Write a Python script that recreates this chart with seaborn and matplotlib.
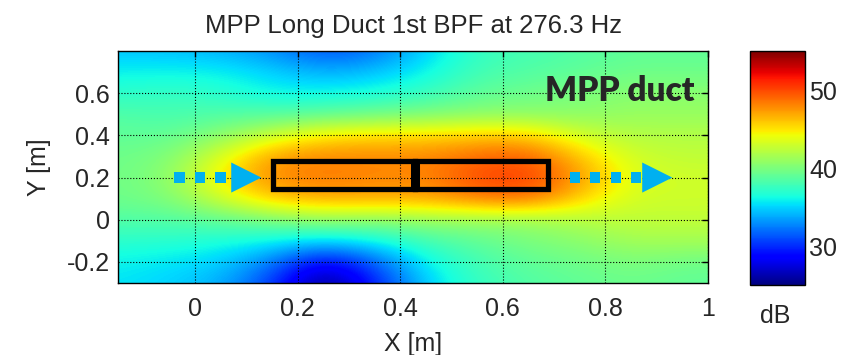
import numpy as np
import matplotlib
matplotlib.use("Agg")
import matplotlib.pyplot as plt
import seaborn as sns
from matplotlib.patches import Rectangle

sns.set_style("white")
plt.rcParams['font.family'] = ['Liberation Sans', 'DejaVu Sans']

# Grid node centres of the measured SPL map (m)
x_nodes = [-0.15, -0.05, 0.05, 0.15, 0.25, 0.35, 0.45, 0.55, 0.65, 0.75, 0.85, 0.95]
y_nodes = [-0.3, -0.2, -0.1, 0.0, 0.1, 0.2, 0.3, 0.4, 0.5, 0.6, 0.7, 0.8]

# SPL in dB, one row per y node (bottom -> top)
spl_db = [
    [35.5, 35.0, 34.0, 30.5, 24.5, 29.5, 35.0, 37.5, 38.5, 39.0, 39.5, 39.0],
    [36.0, 35.5, 35.0, 32.5, 28.0, 31.5, 36.0, 38.0, 39.0, 39.5, 40.0, 39.5],
    [37.0, 37.0, 36.5, 36.0, 35.0, 36.0, 38.0, 39.0, 40.0, 40.5, 41.5, 41.5],
    [38.5, 38.5, 39.0, 40.0, 41.0, 40.5, 41.0, 41.0, 41.0, 42.0, 42.5, 42.5],
    [39.5, 40.0, 43.0, 46.0, 47.0, 47.0, 47.0, 48.5, 49.0, 45.5, 43.0, 43.0],
    [39.5, 40.5, 45.0, 48.0, 48.5, 48.0, 48.0, 50.0, 50.5, 47.5, 43.5, 43.0],
    [39.5, 40.0, 43.5, 47.5, 48.0, 48.0, 48.0, 49.0, 49.5, 46.0, 43.0, 42.5],
    [39.0, 39.0, 40.5, 43.0, 45.0, 45.5, 45.5, 46.0, 46.0, 43.0, 42.0, 42.0],
    [38.5, 38.0, 38.5, 38.5, 39.0, 39.5, 40.0, 40.5, 40.5, 40.5, 41.0, 41.0],
    [37.0, 37.5, 37.0, 36.0, 36.0, 36.5, 37.5, 39.0, 39.5, 40.0, 40.5, 40.5],
    [36.0, 36.0, 36.0, 35.0, 34.0, 34.5, 36.0, 38.0, 38.5, 39.0, 39.5, 39.5],
    [34.5, 34.5, 34.0, 33.0, 31.0, 32.0, 35.0, 37.5, 38.0, 38.5, 39.0, 39.0],
]

# duct outline (two segments) and flow arrows
duct_x = [0.152, 0.429, 0.689]
duct_y = [0.146, 0.279]
flow_in_x = [-0.03, 0.01, 0.05]
flow_out_x = [0.74, 0.78, 0.82, 0.86]
head_x = [0.100, 0.901]
flow_y = 0.2

fig = plt.figure(figsize=(8.49, 3.55), dpi=100)
ax = fig.add_axes([0.139, 0.203, 0.695, 0.653])
cax = fig.add_axes([0.883, 0.197, 0.065, 0.659])

dx = x_nodes[1] - x_nodes[0]
dy = y_nodes[1] - y_nodes[0]
im = ax.imshow(np.array(spl_db), origin='lower', cmap='jet', vmin=25, vmax=55,
               interpolation='bicubic', aspect='auto',
               extent=[x_nodes[0] - dx / 2, x_nodes[-1] + dx / 2,
                       y_nodes[0] - dy / 2, y_nodes[-1] + dy / 2])
ax.set_xlim(-0.15, 1.0)
ax.set_ylim(-0.3, 0.8)

ax.set_xticks([0, 0.2, 0.4, 0.6, 0.8, 1])
ax.set_xticklabels(['0', '0.2', '0.4', '0.6', '0.8', '1'])
ax.set_yticks([-0.2, 0, 0.2, 0.4, 0.6])
ax.set_yticklabels(['-0.2', '0', '0.2', '0.4', '0.6'])
ax.grid(True, color='black', linestyle=':', linewidth=0.8)
ax.tick_params(direction='in', top=True, right=True, length=4, width=1,
               labelsize=18, pad=10, color='black')
ax.tick_params(axis='y', pad=6)
for s in ax.spines.values():
    s.set_color('black')
    s.set_linewidth(1)

# duct boxes
for x0, x1 in zip(duct_x[:-1], duct_x[1:]):
    ax.add_patch(Rectangle((x0, duct_y[0]), x1 - x0, duct_y[1] - duct_y[0],
                           fill=False, edgecolor='black', linewidth=3.8, zorder=4))
ax.plot([duct_x[1], duct_x[1]], [duct_y[0] + 0.01, duct_y[1]], color='black',
        linewidth=6.5, solid_capstyle='butt', zorder=4)

# flow arrows
sns.scatterplot(x=flow_in_x + flow_out_x, y=[flow_y] * 7, marker='s', s=55,
                color='#00B0F0', edgecolor='none', ax=ax, zorder=5, legend=False)
sns.scatterplot(x=head_x, y=[flow_y] * 2, marker='>', s=470,
                color='#00B0F0', edgecolor='none', ax=ax, zorder=5, legend=False)

ax.text(0.974, 0.613, 'MPP duct', ha='right', va='center', fontsize=24,
        fontweight='heavy', family='Lato', zorder=6)

ax.set_title('MPP Long Duct 1st BPF at 276.3 Hz', fontsize=18.5, pad=13)
ax.set_xlabel('X [m]', fontsize=18, labelpad=8)
ax.set_ylabel('Y [m]', fontsize=18, labelpad=11)

cb = fig.colorbar(im, cax=cax, ticks=[30, 40, 50])
cax.tick_params(direction='in', left=True, right=True, length=4, labelsize=18,
                pad=3, color='black')
cb.outline.set_edgecolor('black')
cb.outline.set_linewidth(1)
fig.text(0.913, 0.11, 'dB', ha='center', va='center', fontsize=18)

fig.savefig('out.png', dpi=100)
